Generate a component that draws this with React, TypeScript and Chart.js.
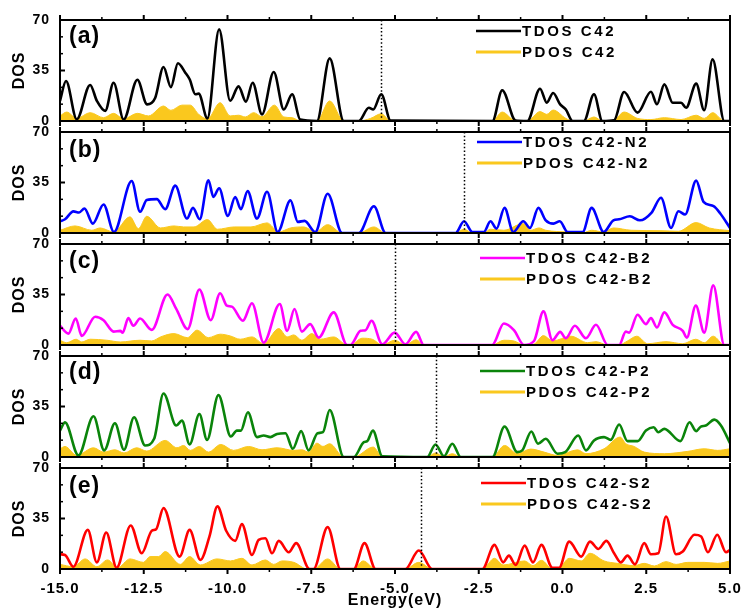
import React, { useEffect, useRef } from 'react';
import { Chart, registerables } from 'chart.js';

Chart.register(...registerables);

const FONT = "'Liberation Sans', Arial, Helvetica, sans-serif";

// ---------- data ----------
const xTickValues = [-15, -12.5, -10, -7.5, -5, -2.5, 0, 2.5, 5];
const yTickValues = [0, 35, 70];
const panelLabels = ['(a)', '(b)', '(c)', '(d)', '(e)'];
const tdosLabels = ['TDOS C42', 'TDOS C42-N2', 'TDOS C42-B2', 'TDOS C42-P2', 'TDOS C42-S2'];
const pdosLabels = ['PDOS C42', 'PDOS C42-N2', 'PDOS C42-B2', 'PDOS C42-P2', 'PDOS C42-S2'];
const tdosColors = ['#000000', '#0000ff', '#ff00ff', '#0a840a', '#ff0000'];
const pdosColor = '#fac81e';
const fermiLevels = [-5.41, -2.94, -5.0, -3.79, -4.22];

type P = [number, number][];

const tdosA: P = [[-15, 14], [-14.82, 27.7], [-14.5, 1.2], [-14.1, 25], [-13.9, 14], [-13.65, 7], [-13.4, 26.5], [-13.1, 1], [-12.69, 28.6], [-12.4, 11.5], [-12.16, 16], [-11.91, 37.4], [-11.69, 23.5], [-11.48, 40], [-11.26, 33.5], [-11.13, 28.9], [-10.96, 18.5], [-10.86, 19], [-10.6, 1.8], [-10.25, 63.5], [-9.92, 14], [-9.67, 24], [-9.45, 13.4], [-9.25, 26.5], [-8.97, 4.6], [-8.62, 34], [-8.32, 8], [-8.07, 18.5], [-7.83, 1], [-7.33, 0], [-6.95, 43.4], [-6.53, 0], [-6.08, 0], [-5.78, 9.2], [-5.65, 8], [-5.41, 18.5], [-5.13, 0.3], [-2.09, 0], [-1.8, 21.3], [-1.4, 0.3], [-1.05, 0], [-0.67, 22.4], [-0.47, 12.7], [-0.28, 19.4], [-0.07, 11.5], [0.1, 8], [0.3, 0], [0.64, 0], [0.94, 18.5], [1.19, 0], [1.54, 0.5], [1.84, 20.1], [2.24, 5.8], [2.64, 20.3], [2.82, 11.6], [3.04, 25.4], [3.29, 12.7], [3.54, 12.7], [3.69, 9.2], [3.99, 25.9], [4.23, 7.4], [4.48, 42.7], [4.83, 0], [5, 0]];
const pdosA: P = [[-15, 3.5], [-14.8, 6.2], [-14.5, 1.8], [-14.1, 5.8], [-13.7, 2.3], [-13.4, 5.3], [-13.1, 1.4], [-12.69, 5.3], [-12.36, 3.5], [-11.91, 10.4], [-11.69, 7.4], [-11.36, 11], [-11.11, 11], [-10.86, 4.6], [-10.6, 1.4], [-10.22, 12.7], [-9.92, 3.5], [-9.67, 4], [-9.47, 2.8], [-9.22, 5.8], [-8.97, 3], [-8.6, 11], [-8.32, 2.8], [-8.07, 2.3], [-7.83, 0], [-7.33, 0], [-6.95, 13.9], [-6.53, 0], [-6.08, 0], [-5.73, 1.8], [-5.41, 5], [-5.13, 0], [-2.09, 0], [-1.8, 6.2], [-1.4, 0], [-1.05, 0], [-0.67, 6.5], [-0.47, 4.6], [-0.28, 7.6], [0.1, 1.8], [0.3, 0], [0.64, 0], [0.94, 2.8], [1.19, 0], [1.54, 0.7], [1.84, 6.2], [2.24, 1.8], [2.64, 1], [3.04, 2.3], [3.54, 1], [3.99, 4], [4.23, 1.8], [4.48, 5.8], [4.83, 0], [5, 0]];

const tdosB: P = [[-15, 8.1], [-14.85, 9.5], [-14.6, 15], [-14.43, 14.2], [-14.27, 17], [-14.02, 6.5], [-13.7, 19.8], [-13.39, 0.7], [-12.86, 36], [-12.61, 14.7], [-12.41, 22.8], [-12.11, 23.5], [-11.86, 16.5], [-11.56, 32.8], [-11.21, 10], [-11.03, 17.4], [-10.83, 9.5], [-10.57, 36.5], [-10.42, 25], [-10.25, 31], [-9.99, 11.9], [-9.77, 25], [-9.6, 16.5], [-9.4, 29], [-9.12, 10], [-8.82, 28.6], [-8.5, 0.7], [-8.12, 22.6], [-7.9, 7.7], [-7.7, 8.4], [-7.38, 0.7], [-7.01, 27.2], [-6.58, 0], [-6.08, 0], [-5.63, 18.5], [-5.28, 0], [-3.19, 0], [-2.94, 8.1], [-2.69, 0.7], [-2.35, 0.7], [-2.15, 8.1], [-1.97, 3], [-1.73, 17.4], [-1.47, 0.7], [-1.17, 8.1], [-0.97, 3.5], [-0.72, 17.4], [-0.5, 8.8], [-0.27, 6.5], [-0.08, 8.1], [0.15, 0.7], [0.6, 0.7], [0.87, 17.4], [1.23, 0.7], [1.52, 8.8], [1.69, 9.5], [2.01, 11.6], [2.31, 8.8], [2.66, 14.2], [2.94, 24.4], [3.24, 3.5], [3.46, 15.1], [3.66, 12.8], [3.99, 36.3], [4.21, 21.6], [4.51, 18.6], [4.71, 13.5], [5, 3.5]];
const pdosB: P = [[-15, 1.9], [-14.55, 4.9], [-14.05, 1.9], [-13.8, 3.5], [-13.4, 0.7], [-12.91, 11.2], [-12.66, 3], [-12.41, 11.6], [-12.0, 3.5], [-11.6, 4.9], [-11.31, 4.2], [-11.0, 4.2], [-10.6, 9.3], [-10.3, 2.6], [-9.8, 4.2], [-9.3, 4.2], [-8.82, 7], [-8.47, 0.7], [-8.12, 3.5], [-7.72, 4.2], [-7.38, 0.7], [-7.01, 5.8], [-6.58, 0], [-6.08, 0], [-5.63, 4.2], [-5.28, 0], [-3.19, 0], [-2.94, 2.6], [-2.69, 0], [-2.35, 0], [-2.15, 2.6], [-1.75, 1.9], [-1.18, 6.5], [-0.95, 1.9], [-0.7, 3.5], [-0.5, 1.9], [0.15, 0.7], [0.6, 0], [0.87, 1.9], [1.23, 0.7], [1.52, 3.5], [2.05, 1.9], [2.94, 1.6], [3.46, 1.2], [3.99, 7.2], [4.38, 3.5], [5, 1.6]];

const tdosC: P = [[-15, 13.3], [-14.75, 7.9], [-14.53, 18.4], [-14.35, 6.3], [-13.95, 19.6], [-13.7, 17.2], [-13.4, 9.3], [-13.2, 9.8], [-13.13, 8.5], [-12.96, 18.6], [-12.81, 13.3], [-12.61, 18.4], [-12.26, 10.5], [-11.79, 35], [-11.53, 25], [-11.19, 11], [-10.84, 38.5], [-10.5, 17.2], [-10.22, 35.9], [-10.02, 27.3], [-9.87, 26.6], [-9.54, 16.8], [-9.27, 28.9], [-8.92, 1.6], [-8.44, 28.4], [-8.22, 9.8], [-8.0, 25], [-7.78, 9.3], [-7.53, 14.5], [-7.28, 5.1], [-6.83, 22.6], [-6.43, 0], [-6.33, 0], [-6.03, 9.8], [-5.88, 10.3], [-5.7, 16.8], [-5.38, 0.5], [-5.01, 8.6], [-4.69, 0.5], [-4.37, 9.1], [-4.14, 0], [-2.1, 0], [-1.75, 14.9], [-1.45, 10.3], [-1.15, 0], [-0.85, 2.8], [-0.57, 23.3], [-0.3, 3.3], [-0.07, 9.1], [0.1, 4.7], [0.37, 13.3], [0.7, 4.7], [1.0, 14], [1.35, 0], [1.69, 0], [1.89, 9.3], [1.99, 8.6], [2.24, 21], [2.49, 14.5], [2.64, 18.6], [2.82, 12.1], [3.04, 22.6], [3.29, 14], [3.59, 9.8], [3.71, 5.1], [3.98, 27.3], [4.23, 8.6], [4.5, 41.3], [4.83, 0], [5, 0]];
const pdosC: P = [[-15, 3.3], [-14.8, 1.6], [-14.52, 4], [-14.35, 2.1], [-14.1, 4], [-13.6, 3.3], [-13.2, 2.1], [-12.61, 3.3], [-12.26, 2.8], [-12.0, 5.6], [-11.6, 7.9], [-11.2, 5.1], [-10.91, 10.3], [-10.57, 5.1], [-10.22, 7.5], [-9.92, 6.3], [-9.62, 4], [-9.27, 5.6], [-8.92, 0.9], [-8.47, 11.4], [-8.22, 5.6], [-8.02, 7], [-7.78, 3.3], [-7.48, 7.9], [-7.23, 4], [-6.83, 5.6], [-6.43, 0], [-6.33, 0], [-5.98, 4.7], [-5.68, 4], [-5.38, 0], [-5.01, 3.3], [-4.69, 0], [-4.37, 3.7], [-4.14, 0], [-2.1, 0], [-1.75, 3.3], [-1.45, 2.8], [-1.15, 0], [-0.85, 0.6], [-0.57, 6.5], [-0.3, 2.8], [0.25, 6.1], [0.75, 1.6], [1.0, 2.3], [1.35, 0], [1.69, 0], [1.94, 2.8], [2.22, 6.1], [2.54, 0.9], [3.09, 2.3], [3.59, 0.9], [3.98, 4], [4.23, 1.6], [4.5, 6.1], [4.83, 0], [5, 0]];

const tdosD: P = [[-15, 18.3], [-14.85, 24], [-14.45, 1.1], [-14.0, 28.2], [-13.68, 4.6], [-13.36, 23.4], [-13.09, 5], [-12.79, 27.5], [-12.46, 8], [-12.19, 12.6], [-11.91, 44], [-11.53, 21.8], [-11.36, 25.2], [-11.13, 8.7], [-10.84, 29.8], [-10.61, 11.9], [-10.27, 42.9], [-9.9, 14.2], [-9.72, 18.3], [-9.6, 18.3], [-9.39, 31], [-9.12, 13.8], [-8.92, 14.9], [-8.72, 13.8], [-8.52, 16], [-8.27, 16.5], [-8.05, 5.7], [-7.8, 17.9], [-7.58, 4.6], [-7.31, 16.5], [-7.15, 17.2], [-6.95, 32.6], [-6.53, 0], [-6.23, 0], [-5.93, 10.3], [-5.83, 11], [-5.66, 18.3], [-5.38, 0.5], [-4.04, 0], [-3.79, 8.7], [-3.54, 0.5], [-3.29, 9.2], [-3.04, 0], [-2.09, 0], [-1.73, 21.1], [-1.35, 3.4], [-1.2, 4.6], [-0.93, 17.7], [-0.73, 9.2], [-0.5, 12.6], [-0.15, 2.3], [0.08, 3.4], [0.47, 14.9], [0.7, 4.6], [0.94, 11.5], [1.24, 13.8], [1.44, 11.9], [1.69, 22.5], [1.94, 11], [2.24, 11], [2.49, 18.3], [2.72, 20.6], [2.86, 17.2], [3.04, 19.5], [3.52, 11], [3.79, 24.1], [3.99, 17.9], [4.13, 21.1], [4.28, 21.8], [4.53, 25.9], [4.73, 21.8], [5, 9.6]];
const pdosD: P = [[-15, 5.7], [-14.85, 7.3], [-14.5, 1.1], [-14.0, 6.4], [-13.7, 3.4], [-13.36, 5], [-13.09, 2.8], [-12.71, 6.4], [-12.41, 4.1], [-11.86, 11.5], [-11.51, 6.4], [-11.31, 8], [-11.11, 4.6], [-10.84, 7.3], [-10.57, 3.4], [-10.2, 8.7], [-9.82, 4.6], [-9.37, 7.3], [-8.97, 5], [-8.52, 6.4], [-8.02, 4.6], [-7.78, 5], [-7.58, 3.4], [-7.33, 9.6], [-7.15, 7.3], [-6.95, 9.2], [-6.53, 0], [-6.23, 0], [-5.65, 6.9], [-5.38, 0], [-4.04, 0], [-3.79, 2.8], [-3.54, 0], [-3.29, 2.3], [-3.04, 0], [-2.09, 0], [-1.73, 8], [-1.35, 2.3], [-0.95, 5.5], [-0.55, 3.4], [-0.15, 1.1], [0.45, 5], [0.7, 2.3], [1.24, 5.7], [1.72, 13.8], [1.89, 9.2], [2.14, 7.3], [2.44, 3.4], [3.04, 2.3], [3.74, 3.9], [4.23, 5.7], [4.63, 4.6], [5, 5.7]];

const tdosE: P = [[-15, 10.2], [-14.85, 9.7], [-14.6, 1.6], [-14.17, 27.1], [-13.9, 4.6], [-13.62, 25.3], [-13.31, 0.9], [-12.89, 30.2], [-12.56, 10.9], [-12.26, 26.5], [-12.13, 27.6], [-11.91, 42.2], [-11.43, 8.6], [-11.13, 27.1], [-10.81, 6.3], [-10.54, 22.5], [-10.3, 43.4], [-10.04, 26.5], [-9.77, 19.5], [-9.57, 31.1], [-9.27, 9.7], [-9.07, 20.2], [-8.87, 21.3], [-8.67, 10.9], [-8.47, 19.5], [-8.17, 11.6], [-7.95, 17.9], [-7.55, 0], [-7.43, 0], [-7.01, 29], [-6.63, 0], [-6.23, 0], [-5.91, 17.9], [-5.58, 0], [-4.69, 0], [-4.29, 12.8], [-3.89, 0], [-2.39, 0], [-2.03, 16.7], [-1.77, 4.6], [-1.6, 9.3], [-1.4, 2.8], [-1.13, 16.2], [-0.88, 4.6], [-0.63, 16.7], [-0.3, 0.9], [-0.1, 0.9], [0.2, 19], [0.56, 8.6], [0.82, 19], [1.07, 13.9], [1.31, 19.5], [1.54, 10.9], [1.74, 4.6], [1.94, 9.3], [2.16, 3.2], [2.44, 17.9], [2.64, 10.2], [2.86, 10.9], [3.09, 36.4], [3.39, 10.2], [3.59, 12.1], [3.94, 23.7], [4.14, 22.5], [4.34, 11.6], [4.62, 23.7], [4.88, 11.6], [5, 13.2]];
const pdosE: P = [[-15, 3.2], [-14.6, 1.6], [-14.25, 7], [-13.9, 1.6], [-13.58, 6.3], [-13.28, 0.9], [-12.91, 7], [-12.51, 4.6], [-12.31, 8.6], [-12.06, 8.6], [-11.86, 12.1], [-11.41, 3.2], [-11.13, 8.6], [-10.81, 2.8], [-10.31, 7], [-9.91, 5.6], [-9.57, 7.4], [-9.27, 2.8], [-8.87, 6.3], [-8.62, 3.2], [-8.37, 5.6], [-8.02, 4.6], [-7.62, 0], [-7.43, 0], [-7.01, 7], [-6.63, 0], [-6.23, 0], [-5.95, 5.6], [-5.58, 0], [-4.69, 0], [-4.29, 4.6], [-3.89, 0], [-2.39, 0], [-2.03, 7.4], [-1.77, 2.8], [-1.13, 5.6], [-0.88, 2.3], [-0.63, 6], [-0.3, 0], [-0.1, 0.5], [0.2, 7.4], [0.56, 5.6], [0.82, 10.9], [1.24, 5.6], [1.64, 3.9], [2.14, 2.3], [2.44, 3.9], [2.74, 2.1], [3.09, 5.1], [3.39, 3.2], [3.74, 4.6], [4.23, 4.6], [4.63, 3.9], [5, 5.6]];

const tdosSeries = [tdosA, tdosB, tdosC, tdosD, tdosE];
const pdosSeries = [pdosA, pdosB, pdosC, pdosD, pdosE];

// ---------- layout (positions only) ----------
const PANEL_TOPS = [20, 132, 244, 356, 468];
const PAD_TOP = 20;
const PANEL_H = 101;
const LEGEND_X = [476, 477, 480, 480, 481];
const LEGEND_DY = [11, 10, 14, 15, 15];
const LABEL_DY = [16.5, 19, 17.7, 17, 19];

const decorPlugin = {
  id: 'decor',
  beforeDraw(chart: any) {
    chart.ctx.letterSpacing = '1px';
  },
  afterDatasetsDraw(chart: any, _args: any, opts: any) {
    const { ctx, chartArea: ca, scales } = chart;
    const x = scales.x;
    const y = scales.y;
    ctx.save();
    ctx.strokeStyle = '#000';
    // Fermi level dotted line
    const fx = Math.round(x.getPixelForValue(opts.fermi)) + 0.5;
    ctx.lineWidth = 1.5;
    ctx.setLineDash([1.5, 2.2]);
    ctx.beginPath();
    ctx.moveTo(fx, ca.top);
    ctx.lineTo(fx, ca.bottom);
    ctx.stroke();
    ctx.setLineDash([]);
    // x ticks (outward, top and bottom)
    for (let k = 0; k <= 16; k++) {
      const v = -15 + k * 1.25;
      const px = x.getPixelForValue(v);
      const major = k % 2 === 0;
      const len = major ? 5 : 3;
      ctx.lineWidth = major ? 2 : 1.5;
      ctx.beginPath();
      ctx.moveTo(px, ca.bottom);
      ctx.lineTo(px, ca.bottom + len);
      ctx.moveTo(px, ca.top);
      ctx.lineTo(px, ca.top - len);
      ctx.stroke();
    }
    // y ticks (inward)
    for (let k = 0; k <= 6; k++) {
      const py = y.getPixelForValue((k * 70) / 6);
      const major = k % 3 === 0;
      ctx.lineWidth = major ? 2 : 1.5;
      ctx.beginPath();
      ctx.moveTo(ca.left, py);
      ctx.lineTo(ca.left + (major ? 5 : 3), py);
      ctx.stroke();
    }
    // frame
    ctx.lineWidth = 2;
    ctx.strokeRect(ca.left, ca.top, ca.right - ca.left, ca.bottom - ca.top);

    // panel label
    ctx.fillStyle = '#000';
    ctx.textBaseline = 'middle';
    ctx.textAlign = 'left';
    ctx.letterSpacing = '1px';
    ctx.font = `bold 23px ${FONT}`;
    ctx.fillText(opts.label, ca.left + 9, ca.top + opts.labelDy);

    // legend
    const ds = chart.data.datasets;
    ctx.font = `bold 15px ${FONT}`;
    ctx.letterSpacing = '2.6px';
    for (let i = 0; i < 2; i++) {
      const ly = ca.top + opts.legendDy + i * 21;
      ctx.strokeStyle = i === 0 ? ds[0].borderColor : ds[1].backgroundColor;
      ctx.lineWidth = i === 0 ? 2.5 : 3;
      ctx.beginPath();
      ctx.moveTo(opts.legendX, ly);
      ctx.lineTo(opts.legendX + 45, ly);
      ctx.stroke();
      ctx.fillStyle = '#000';
      ctx.fillText(ds[i].label, opts.legendX + 46, ly + 1);
    }
    ctx.restore();
  },
};

function Panel({ index }: { index: number }) {
  const ref = useRef<HTMLCanvasElement | null>(null);
  const isLast = index === 4;
  const height = isLast ? 610 - (PANEL_TOPS[4] - PAD_TOP) : PAD_TOP + PANEL_H + 20;

  useEffect(() => {
    if (!ref.current) return;
    const toXY = (arr: P) => arr.map(([x, y]) => ({ x, y }));
    const chart = new Chart(ref.current, {
      type: 'line',
      data: {
        datasets: [
          {
            label: tdosLabels[index],
            data: toXY(tdosSeries[index]),
            borderColor: tdosColors[index],
            borderWidth: 2.6,
            pointRadius: 0,
            cubicInterpolationMode: 'monotone',
            fill: false,
          },
          {
            label: pdosLabels[index],
            data: toXY(pdosSeries[index]),
            borderColor: pdosColor,
            backgroundColor: pdosColor,
            borderWidth: 1,
            pointRadius: 0,
            cubicInterpolationMode: 'monotone',
            fill: 'origin',
          },
        ],
      } as any,
      options: {
        responsive: false,
        maintainAspectRatio: false,
        animation: false,
        devicePixelRatio: 1,
        events: [],
        layout: { padding: { left: 0, right: 12, top: PAD_TOP, bottom: isLast ? 0 : 20 } },
        scales: {
          x: {
            type: 'linear',
            min: -15,
            max: 5,
            display: isLast,
            afterBuildTicks: (s: any) => {
              s.ticks = xTickValues.map((v) => ({ value: v }));
            },
            afterFit: (s: any) => {
              s.height = isLast ? 41 : 0;
              s.paddingLeft = 0;
              s.paddingRight = 0;
            },
            grid: { display: false, drawTicks: false },
            border: { display: false },
            ticks: {
              color: '#000',
              autoSkip: false,
              maxRotation: 0,
              padding: 11,
              font: { family: FONT, size: 15, weight: 'bold' },
              callback: (v: any) => Number(v).toFixed(1),
            },
            title: {
              display: true,
              text: 'Energy(eV)',
              color: '#000',
              font: { family: FONT, size: 16, weight: 'bold' },
              padding: { top: 0, bottom: 0 },
            },
          },
          y: {
            min: 0,
            max: 70,
            afterBuildTicks: (s: any) => {
              s.ticks = yTickValues.map((v) => ({ value: v }));
            },
            afterFit: (s: any) => {
              s.width = 60;
            },
            grid: { display: false, drawTicks: false },
            border: { display: false },
            ticks: {
              color: '#000',
              padding: 10,
              font: { family: FONT, size: 14, weight: 'bold' },
            },
            title: {
              display: true,
              text: 'DOS',
              color: '#000',
              font: { family: FONT, size: 16, weight: 'bold' },
              padding: { top: 10, bottom: 0 },
            },
          },
        },
        plugins: {
          legend: { display: false },
          tooltip: { enabled: false },
          decor: {
            fermi: fermiLevels[index],
            label: panelLabels[index],
            labelDy: LABEL_DY[index],
            legendX: LEGEND_X[index],
            legendDy: LEGEND_DY[index],
          },
        } as any,
      } as any,
      plugins: [decorPlugin as any],
    });
    return () => chart.destroy();
  }, [index]);

  return (
    <canvas
      ref={ref}
      width={742}
      height={height}
      style={{
        position: 'absolute',
        left: 0,
        top: PANEL_TOPS[index] - PAD_TOP,
        width: 742,
        height,
      }}
    />
  );
}

export default function App() {
  return (
    <div style={{ position: 'absolute', left: 0, top: 0, width: 742, height: 610, background: '#fff' }}>
      {[0, 1, 2, 3, 4].map((i) => (
        <Panel key={i} index={i} />
      ))}
    </div>
  );
}
